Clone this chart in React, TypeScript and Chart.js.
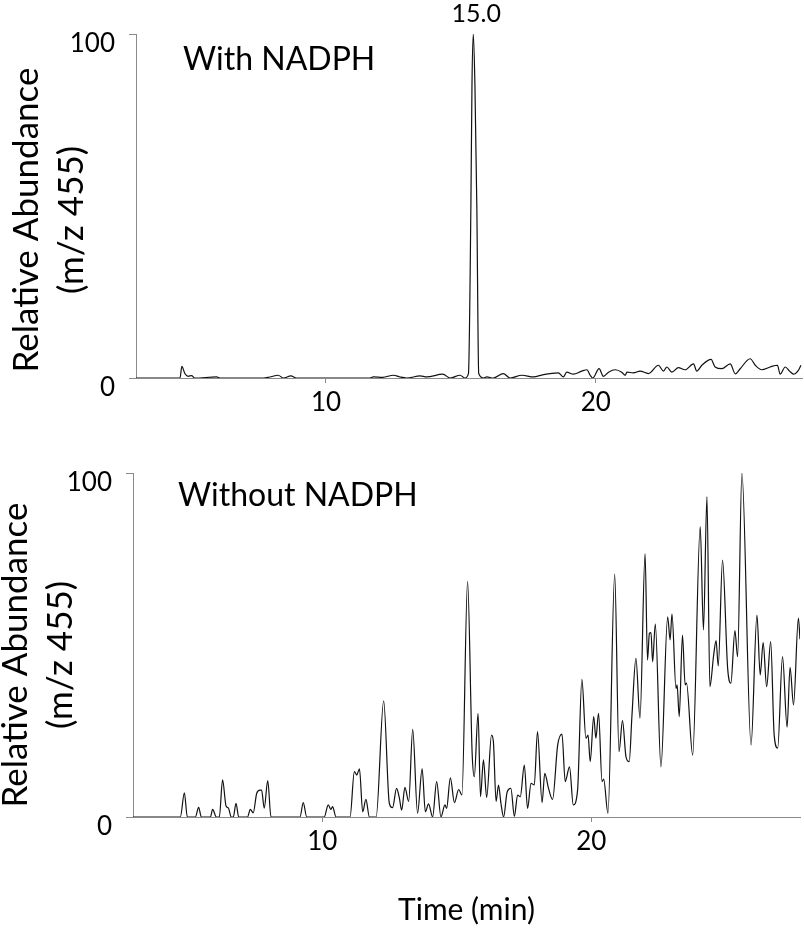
import React, { useEffect, useRef } from 'react';
import { Chart, registerables } from 'chart.js';

Chart.register(...registerables);

// ---- Data ----
const timesTop = [
  2.96, 4.59, 4.66, 4.77, 4.89, 5.02, 5.14, 5.95, 6.07, 7.68, 7.92, 8.23, 8.42, 8.70, 8.91,
  11.63, 11.75, 12.10, 12.50, 12.74, 12.99, 13.49, 13.73, 14.33, 14.60, 14.97, 15.15, 15.28,
  15.37, 15.41, 15.46, 15.52, 15.59, 15.66, 15.83, 15.96, 16.20, 16.57, 16.82, 17.26, 17.69,
  18.06, 18.61, 18.80, 18.92, 19.17, 19.48, 19.67, 19.79, 19.89, 20.12, 20.28, 20.47, 20.72,
  20.96, 21.09, 21.15, 21.39, 21.64, 21.95, 22.32, 22.51, 22.63, 22.82, 23.06, 23.31, 23.62,
  23.74, 23.93, 24.27, 24.42, 24.67, 24.98, 25.17, 25.35, 25.72, 25.91, 26.15, 26.46, 26.73,
  26.83, 27.02, 27.18, 27.33, 27.51, 27.60,
];
const valuesTop = [
  0, 0, 3.4, 1.3, 0.5, 0.7, 0, 0.3, 0, 0, 0.3, 0.8, 0, 0.6, 0,
  0, 0.3, 0.2, 0.8, 0.3, 0, 0.6, 0.3, 1.1, 0, 0.8, 0, 1.3,
  50, 85, 100, 85, 50, 1.3, 0, 0.3, 0, 1.3, 0, 0.8, 0.3,
  1.0, 1.5, 0.3, 1.7, 1.1, 2.0, 2.4, 0.8, 0, 2.7, 0.5, 1.7, 2.4,
  1.7, 0.8, 1.7, 1.5, 2.0, 1.3, 3.7, 2.0, 3.2, 1.7, 3.0, 2.4, 4.1,
  2.0, 3.7, 5.4, 3.2, 2.7, 4.1, 1.2, 2.7, 5.6, 3.7, 2.4, 3.2, 3.7,
  1.1, 3.2, 2.0, 1.1, 2.3, 3.7,
];

const timesBottom = [
  2.96, 4.72, 4.87, 4.98, 5.28, 5.40, 5.50, 5.84, 5.92, 6.06, 6.17, 6.29, 6.42, 6.51, 6.61,
  6.69, 6.79, 6.89, 7.22, 7.32, 7.43, 7.56, 7.68, 7.74, 7.84, 7.97, 8.09, 9.17, 9.29, 9.42,
  10.07, 10.22, 10.32, 10.38, 10.51, 11.03, 11.19, 11.28, 11.38, 11.50, 11.62, 11.75, 12.00,
  12.28, 12.49, 12.61, 12.76, 12.86, 12.95, 13.07, 13.21, 13.36, 13.54, 13.71, 13.83, 13.95,
  14.10, 14.25, 14.41, 14.56, 14.62, 14.76, 14.91, 15.07, 15.19, 15.40, 15.57, 15.65, 15.79,
  15.88, 15.99, 16.11, 16.29, 16.36, 16.46, 16.55, 16.64, 16.74, 16.87, 17.01, 17.14, 17.26,
  17.36, 17.51, 17.63, 17.76, 17.88, 18.00, 18.17, 18.27, 18.41, 18.56, 18.75, 18.91, 19.03,
  19.19, 19.33, 19.49, 19.65, 19.80, 19.88, 19.96, 20.09, 20.17, 20.27, 20.40, 20.46, 20.62,
  20.87, 21.03, 21.16, 21.29, 21.41, 21.51, 21.66, 21.81, 22.00, 22.09, 22.16, 22.22, 22.28,
  22.38, 22.59, 22.84, 22.93, 23.00, 23.15, 23.19, 23.27, 23.39, 23.49, 23.54, 23.77, 24.05,
  24.17, 24.30, 24.41, 24.55, 24.64, 24.72, 24.88, 25.07, 25.19, 25.34, 25.44, 25.60, 25.94,
  26.16, 26.28, 26.39, 26.52, 26.67, 26.80, 26.93, 27.11, 27.28, 27.39, 27.52, 27.70, 27.76,
];
const valuesBottom = [
  0, 0, 7.0, 0, 0, 2.8, 0, 0, 2.2, 0, 0, 10.8, 3.2, 2.6, 0,
  0, 4.0, 0, 0, 2.2, 1.2, 6.9, 7.8, 7.8, 2.6, 10.6, 0, 0, 4.2, 0,
  0, 3.5, 2.2, 3.0, 0, 0, 13.2, 12.2, 14.0, 1.5, 5.1, 0, 0,
  33.8, 4.0, 2.7, 8.3, 5.7, 2.0, 8.6, 4.5, 25.5, 1.1, 14.0, 1.5, 3.8,
  0, 10.3, 0, 3.5, 2.5, 11.4, 4.2, 8.0, 6.4, 68.5, 18.5, 11.7, 30.1,
  5.9, 16.6, 5.7, 23.8, 21.9, 4.5, 9.3, 4.0, 0, 7.2, 8.3, 0.2, 6.4,
  5.9, 15.1, 2.5, 9.8, 9.3, 24.8, 4.2, 12.7, 8.3, 5.1, 20.9, 24.1, 10.3,
  14.6, 3.5, 7.8, 40.0, 22.9, 23.8, 16.1, 29.2, 22.9, 30.1, 10.3, 11.0, 1.1,
  70.6, 19.0, 28.0, 17.5, 16.1, 29.2, 46.1, 28.7, 76.5, 45.6, 53.4, 53.6, 45.1,
  56.1, 14.6, 58.2, 51.5, 59.0, 37.4, 38.4, 29.2, 52.9, 38.4, 38.9, 18.0, 84.4,
  54.4, 93.1, 37.9, 47.1, 51.3, 43.9, 74.7, 43.2, 38.9, 54.2, 46.6, 100, 20.9,
  58.7, 41.3, 50.7, 37.9, 51.0, 23.8, 20.0, 46.6, 26.1, 43.5, 32.6, 57.8, 51.7,
];

const xTickValues = [10, 20];
const yTickValues = [0, 100];
const yTitleLines = ['Relative Abundance', '(m/z 455)'];
const panelLabels = ['With NADPH', 'Without NADPH'];
const peakTime = 15.46;
const peakText = '15.0';
const xTitleText = 'Time (min)';

const FONT = 'Lato';

const textPlugin = {
  id: 'panelText',
  afterDraw(chart: any, _args: any, opts: any) {
    const { ctx, chartArea, scales } = chart;
    ctx.save();
    ctx.fillStyle = '#000';
    ctx.textBaseline = 'alphabetic';
    ctx.textAlign = 'center';
    ctx.font = `${opts.yTitleSize}px ${FONT}`;
    opts.yTitleBaselines.forEach((bx: number, i: number) => {
      ctx.save();
      ctx.translate(bx, opts.yTitleCenter);
      ctx.rotate(-Math.PI / 2);
      ctx.fillText(yTitleLines[i], 0, 0);
      ctx.restore();
    });
    ctx.textAlign = 'left';
    ctx.font = `32px ${FONT}`;
    ctx.fillText(opts.label, chartArea.left + opts.labelDx, chartArea.top + opts.labelDy);
    if (opts.showPeak) {
      ctx.textAlign = 'center';
      ctx.font = `25px ${FONT}`;
      ctx.fillText(peakText, scales.x.getPixelForValue(peakTime) + 3, chartArea.top - 12);
    }
    ctx.restore();
  },
};

function makeConfig(times: number[], values: number[], p: any) {
  const axisColor = '#8a8a8a';
  return {
    type: 'line',
    data: {
      datasets: [
        {
          data: times.map((t, i) => ({ x: t, y: values[i] })),
          borderColor: '#111',
          borderWidth: 1.2,
          pointRadius: 0,
          cubicInterpolationMode: 'monotone',
          fill: false,
        },
      ],
    },
    options: {
      animation: false,
      responsive: false,
      events: [],
      layout: { padding: { top: p.top, right: p.right, left: 0, bottom: 0 } },
      plugins: {
        legend: { display: false },
        tooltip: { enabled: false },
        panelText: {
          yTitleSize: 35,
          yTitleBaselines: p.yTitleBaselines,
          yTitleCenter: p.yTitleCenter,
          label: p.label,
          labelDx: p.labelDx,
          labelDy: p.labelDy,
          showPeak: p.showPeak,
        },
      },
      scales: {
        x: {
          type: 'linear',
          min: p.xmin,
          max: p.xmax,
          afterFit: (s: any) => {
            s.height = p.xh;
          },
          afterBuildTicks: (s: any) => {
            s.ticks = xTickValues.map((v) => ({ value: v }));
          },
          grid: { drawOnChartArea: false, drawTicks: true, tickLength: 5, color: axisColor },
          border: { display: true, color: axisColor, width: 1 },
          ticks: { font: { size: 26, family: FONT }, color: '#000', padding: 4, maxRotation: 0 },
          title: p.xTitle
            ? {
                display: true,
                text: xTitleText,
                color: '#000',
                font: { size: 30, family: FONT },
                padding: { top: 0, bottom: 0 },
              }
            : { display: false },
        },
        y: {
          type: 'linear',
          min: 0,
          max: 100,
          afterFit: (s: any) => {
            s.width = p.yw;
          },
          afterBuildTicks: (s: any) => {
            s.ticks = yTickValues.map((v) => ({ value: v }));
          },
          grid: { drawOnChartArea: false, drawTicks: true, tickLength: 7, color: axisColor },
          border: { display: true, color: axisColor, width: 1 },
          ticks: { font: { size: 26, family: FONT }, color: '#000', padding: 14, labelOffset: 10 },
        },
      },
    },
    plugins: [textPlugin],
  };
}

function Panel(props: { times: number[]; values: number[]; p: any; width: number; height: number; top: number }) {
  const ref = useRef<HTMLCanvasElement | null>(null);
  useEffect(() => {
    if (!ref.current) return;
    const chart = new Chart(ref.current, makeConfig(props.times, props.values, props.p) as any);
    return () => chart.destroy();
  }, []);
  return (
    <canvas
      ref={ref}
      width={props.width}
      height={props.height}
      style={{ position: 'absolute', left: 0, top: props.top, width: props.width, height: props.height, display: 'block' }}
    />
  );
}

export default function App() {
  const topP = {
    top: 34,
    right: 2,
    xh: 62,
    yw: 136,
    xmin: 2.96,
    xmax: 27.64,
    yTitleBaselines: [38, 83],
    yTitleCenter: 220,
    label: panelLabels[0],
    labelDx: 47,
    labelDy: 36,
    showPeak: true,
    xTitle: false,
  };
  const botP = {
    top: 33,
    right: 4,
    xh: 111,
    yw: 133,
    xmin: 2.96,
    xmax: 27.76,
    yTitleBaselines: [27, 72],
    yTitleCenter: 215,
    label: panelLabels[1],
    labelDx: 45,
    labelDy: 33,
    showPeak: false,
    xTitle: true,
  };
  return (
    <div style={{ position: 'absolute', left: 0, top: 0, width: 804, height: 928, background: '#fff' }}>
      <Panel times={timesTop} values={valuesTop} p={topP} width={804} height={440} top={0} />
      <Panel times={timesBottom} values={valuesBottom} p={botP} width={804} height={488} top={440} />
    </div>
  );
}
